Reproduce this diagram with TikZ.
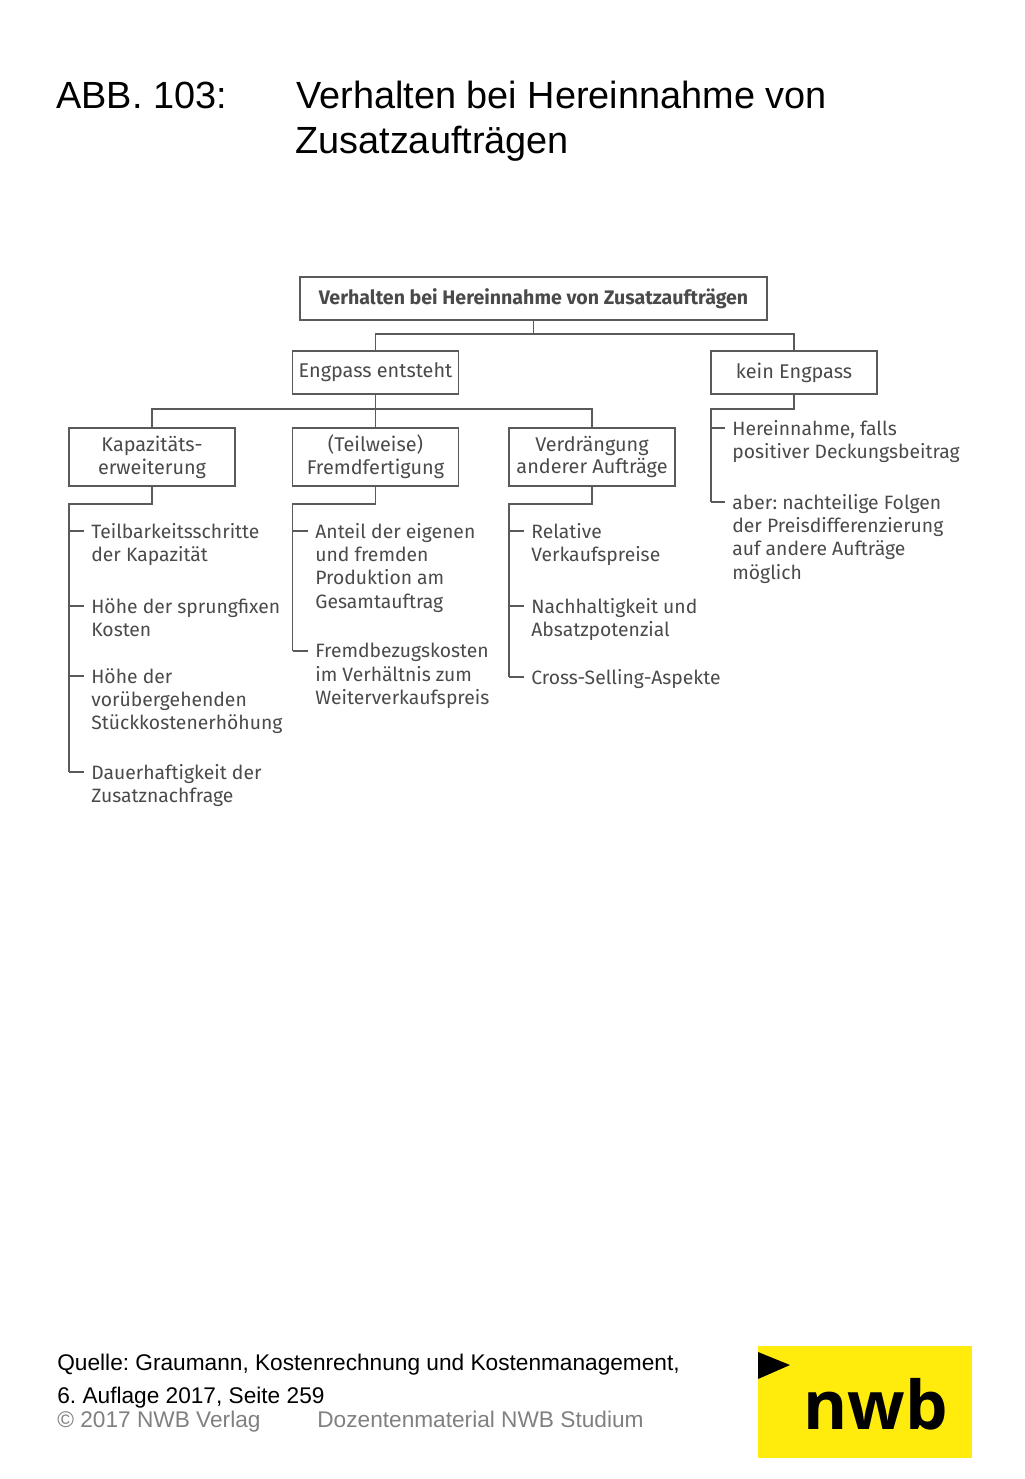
\documentclass[tikz,border=0pt]{standalone}
\usepackage{fontspec}
\setmainfont{Liberation Sans}
\newfontfamily\boxfont{Fira Sans}
\newfontfamily\logofont{Open Sans}
\definecolor{nwbyellow}{HTML}{FFEC0C}
\definecolor{linegray}{HTML}{5A5A5A}
\definecolor{textgray}{HTML}{4A4A4A}
\definecolor{footgray}{HTML}{808080}
\tikzset{
    box/.style={draw=linegray, line width=1pt, minimum width=94.5pt, align=center, inner sep=0pt, text=textgray,
        font=\boxfont\fontsize{11.3}{13}\selectfont},
    item/.style={anchor=north west, inner sep=0pt, align=left, text=textgray,
        font=\frenchspacing\boxfont\fontsize{11}{13.2}\selectfont},
    conn/.style={draw=linegray, line width=0.9pt},
    headline/.style={anchor=base west, inner sep=0pt, font=\fontsize{21.55}{25}\selectfont},
    foot/.style={anchor=base west, inner sep=0pt, font=\frenchspacing\fontsize{12.9}{15}\selectfont}
}

\begin{document}
\begin{tikzpicture}[x=0.02cm, y=-0.02cm]

        \useasboundingbox (0,0) rectangle (1024,1479);

        \node[headline] (abb) at (56,109) {ABB. 103:};
        \node[headline] (title1) at (296,109) {Verhalten bei Hereinnahme von};
        \node[headline] (title2) at (295,154) {Zusatzaufträgen};

        \node[box, minimum width=266pt, minimum height=24.4pt, font=\boxfont\bfseries\fontsize{11.15}{13}\selectfont] (top) at (533.5,298.5) {Verhalten bei Hereinnahme von Zusatzaufträgen};

        \node[box, minimum height=24.4pt] (eng) at (375.5,372.5) {Engpass entsteht};
        \node[box, minimum height=24.4pt] (kein) at (794,372.5) {kein Engpass};

        \node[box, minimum height=33pt] (k) at (152,457) {Kapazitäts-\\erweiterung};
        \node[box, minimum height=33pt] (f) at (375.5,457) {(Teilweise)\\Fremdfertigung};
        \node[box, minimum height=33pt] (v) at (592,457) {Verdrängung\\anderer Aufträge};

        \coordinate (toprail) at (533.5,334);
        \coordinate (engrail) at (375.5,409);
        \coordinate (kt) at (69,504);
        \coordinate (ft) at (292.5,504);
        \coordinate (vt) at (509,504);
        \coordinate (nt) at (711,409);

        \node[item] (k1) at (91,523) {Teilbarkeitsschritte\\der Kapazität};
        \node[item] (k2) at (91,598) {Höhe der sprungfixen\\Kosten};
        \node[item] (k3) at (91,668) {Höhe der\\vorübergehenden\\Stückkostenerhöhung};
        \node[item] (k4) at (91,764) {Dauerhaftigkeit der\\Zusatznachfrage};

        \node[item] (f1) at (315,523) {Anteil der eigenen\\und fremden\\Produktion am\\Gesamtauftrag};
        \node[item] (f2) at (315,643) {Fremdbezugskosten\\im Verhältnis zum\\Weiterverkaufspreis};

        \node[item] (v1) at (531,523) {Relative\\Verkaufspreise};
        \node[item] (v2) at (531,598) {Nachhaltigkeit und\\Absatzpotenzial};
        \node[item] (v3) at (531,669) {Cross-Selling-Aspekte};

        \node[item] (n1) at (732,420) {Hereinnahme, falls\\positiver Deckungsbeitrag};
        \node[item] (n2) at (732,494) {aber: nachteilige Folgen\\der Preisdifferenzierung\\auf andere Aufträge\\möglich};

        \draw[conn] (top.south) -- (toprail);
        \draw[conn] (eng.north) -- (eng.north |- toprail) -- (kein.north |- toprail) -- (kein.north);

        \draw[conn] (eng.south) -- (f.north);
        \draw[conn] (k.north) -- (k.north |- engrail) -- (v.north |- engrail) -- (v.north);

        \draw[conn] (k.south) -- (k.south |- kt) -- (kt) -- ([yshift=-4.5pt]k4.north -| kt);
        \draw[conn] (f.south) -- (f.south |- ft) -- (ft) -- ([yshift=-4.5pt]f2.north -| ft);
        \draw[conn] (v.south) -- (v.south |- vt) -- (vt) -- ([yshift=-4.5pt]v3.north -| vt);
        \draw[conn] (kein.south) -- (kein.south |- nt) -- (nt) -- ([yshift=-4.5pt]n2.north -| nt);

        \foreach \n in {k1,k2,k3,k4}
            \draw[conn] ([yshift=-4.5pt]\n.north -| kt) -- ([xshift=-4pt,yshift=-4.5pt]\n.north west);
        \foreach \n in {f1,f2}
            \draw[conn] ([yshift=-4.5pt]\n.north -| ft) -- ([xshift=-4pt,yshift=-4.5pt]\n.north west);
        \foreach \n in {v1,v2,v3}
            \draw[conn] ([yshift=-4.5pt]\n.north -| vt) -- ([xshift=-4pt,yshift=-4.5pt]\n.north west);
        \foreach \n in {n1,n2}
            \draw[conn] ([yshift=-4.5pt]\n.north -| nt) -- ([xshift=-4pt,yshift=-4.5pt]\n.north west);

        \node[foot] (src1) at (57,1370.5) {Quelle: Graumann, Kostenrechnung und Kostenmanagement,};
        \node[foot] (src2) at (57,1403.5) {6. Auflage 2017, Seite 259};
        \node[foot, text=footgray] (copy) at (57,1427.5) {© 2017 NWB Verlag};
        \node[foot, text=footgray] (doz) at (317,1427.5) {Dozentenmaterial NWB Studium};

        \fill[nwbyellow] (758,1346) rectangle (972,1458);
        \fill[black] (758,1352) -- (790,1365) -- (758,1379) -- cycle;
        \node[anchor=base, inner sep=0pt, font=\logofont\bfseries\fontsize{38.3}{38}\selectfont] (logo) at (875.5,1429) {nwb};

\end{tikzpicture}
\end{document}
